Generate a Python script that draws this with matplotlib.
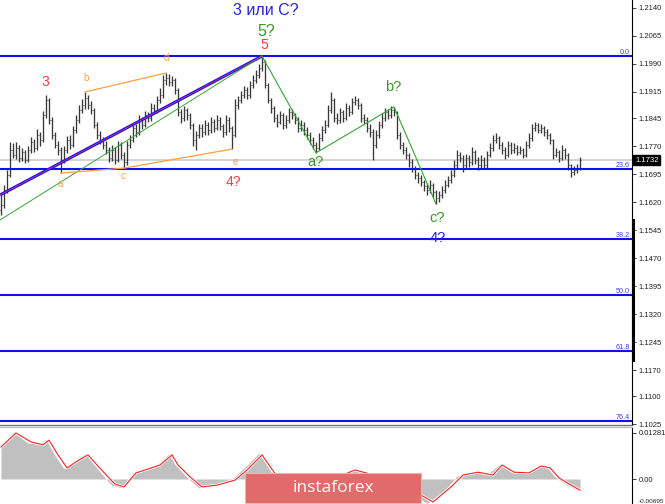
import matplotlib
matplotlib.use("Agg")
import matplotlib.pyplot as plt
import matplotlib.patheffects as pe
from matplotlib.patches import Rectangle
from matplotlib.lines import Line2D
import numpy as np

plt.rcParams['font.family'] = ['Liberation Sans', 'DejaVu Sans']

# === price bars (EURUSD-like), one entry per bar ===
first_open = 1.1600
closes = [
    1.1612, 1.1652, 1.1693, 1.1760, 1.1746, 1.1765, 1.1738, 1.1754, 1.1733, 1.1760,
    1.1781, 1.1765, 1.1800, 1.1786, 1.1853, 1.1894, 1.1840, 1.1800, 1.1773, 1.1760,
    1.1733, 1.1760, 1.1786, 1.1773, 1.1813, 1.1840, 1.1867, 1.1880, 1.1899, 1.1880,
    1.1867, 1.1827, 1.1800, 1.1786, 1.1773, 1.1760, 1.1738, 1.1760, 1.1733, 1.1773,
    1.1746, 1.1727, 1.1773, 1.1786, 1.1819, 1.1808, 1.1840, 1.1827, 1.1853, 1.1845,
    1.1872, 1.1867, 1.1894, 1.1907, 1.1947, 1.1953, 1.1942, 1.1947, 1.1920, 1.1861,
    1.1845, 1.1867, 1.1853, 1.1827, 1.1786, 1.1800, 1.1819, 1.1808, 1.1827, 1.1813,
    1.1835, 1.1819, 1.1840, 1.1824, 1.1808, 1.1840, 1.1819, 1.1800, 1.1880, 1.1894,
    1.1907, 1.1920, 1.1907, 1.1934, 1.1947, 1.1961, 1.1979, 1.1995, 1.1934, 1.1894,
    1.1872, 1.1845, 1.1835, 1.1853, 1.1827, 1.1840, 1.1861, 1.1853, 1.1840, 1.1819,
    1.1827, 1.1813, 1.1800, 1.1786, 1.1773, 1.1765, 1.1792, 1.1813, 1.1827, 1.1867,
    1.1894, 1.1845, 1.1840, 1.1861, 1.1845, 1.1872, 1.1861, 1.1888, 1.1894, 1.1880,
    1.1845, 1.1840, 1.1819, 1.1808, 1.1773, 1.1800, 1.1827, 1.1845, 1.1861, 1.1853,
    1.1867, 1.1861, 1.1800, 1.1773, 1.1760, 1.1746, 1.1727, 1.1711, 1.1693, 1.1684,
    1.1674, 1.1663, 1.1652, 1.1666, 1.1647, 1.1631, 1.1639, 1.1652, 1.1666, 1.1679,
    1.1693, 1.1719, 1.1746, 1.1738, 1.1719, 1.1738, 1.1727, 1.1754, 1.1733, 1.1719,
    1.1733, 1.1719, 1.1746, 1.1765, 1.1786, 1.1792, 1.1773, 1.1760, 1.1746, 1.1773,
    1.1760, 1.1765, 1.1754, 1.1760, 1.1746, 1.1773, 1.1792, 1.1819, 1.1827, 1.1813,
    1.1819, 1.1808, 1.1800, 1.1786, 1.1746, 1.1754, 1.1738, 1.1760, 1.1746, 1.1719,
    1.1700, 1.1706, 1.1711, 1.1732,
]
highs = [
    1.1640, 1.1665, 1.1705, 1.1781, 1.1778, 1.1780, 1.1772, 1.1765, 1.1760, 1.1770,
    1.1795, 1.1790, 1.1815, 1.1808, 1.1865, 1.1907, 1.1900, 1.1848, 1.1808, 1.1785,
    1.1768, 1.1770, 1.1798, 1.1800, 1.1825, 1.1852, 1.1880, 1.1895, 1.1915, 1.1908,
    1.1890, 1.1872, 1.1835, 1.1810, 1.1795, 1.1785, 1.1768, 1.1772, 1.1768, 1.1785,
    1.1780, 1.1755, 1.1785, 1.1800, 1.1830, 1.1828, 1.1852, 1.1848, 1.1865, 1.1862,
    1.1885, 1.1882, 1.1905, 1.1925, 1.1960, 1.1966, 1.1962, 1.1958, 1.1952, 1.1925,
    1.1870, 1.1878, 1.1872, 1.1860, 1.1832, 1.1810, 1.1830, 1.1828, 1.1840, 1.1835,
    1.1848, 1.1842, 1.1852, 1.1848, 1.1830, 1.1852, 1.1848, 1.1825, 1.1895, 1.1905,
    1.1918, 1.1932, 1.1928, 1.1945, 1.1960, 1.1975, 1.1990, 1.2011, 1.2000, 1.1940,
    1.1900, 1.1878, 1.1855, 1.1865, 1.1860, 1.1852, 1.1872, 1.1870, 1.1860, 1.1848,
    1.1840, 1.1835, 1.1820, 1.1808, 1.1795, 1.1780, 1.1805, 1.1825, 1.1840, 1.1880,
    1.1915, 1.1900, 1.1858, 1.1872, 1.1868, 1.1885, 1.1880, 1.1900, 1.1905, 1.1900,
    1.1885, 1.1855, 1.1848, 1.1828, 1.1815, 1.1812, 1.1838, 1.1858, 1.1872, 1.1870,
    1.1878, 1.1875, 1.1865, 1.1808, 1.1782, 1.1768, 1.1752, 1.1735, 1.1718, 1.1700,
    1.1692, 1.1680, 1.1672, 1.1678, 1.1672, 1.1652, 1.1650, 1.1662, 1.1678, 1.1690,
    1.1705, 1.1732, 1.1760, 1.1755, 1.1745, 1.1750, 1.1745, 1.1768, 1.1760, 1.1740,
    1.1745, 1.1740, 1.1758, 1.1778, 1.1800, 1.1805, 1.1798, 1.1780, 1.1768, 1.1785,
    1.1780, 1.1778, 1.1772, 1.1770, 1.1765, 1.1785, 1.1805, 1.1830, 1.1835, 1.1832,
    1.1828, 1.1825, 1.1815, 1.1805, 1.1790, 1.1765, 1.1760, 1.1772, 1.1765, 1.1752,
    1.1722, 1.1718, 1.1722, 1.1742,
]
lows = [
    1.1585, 1.1605, 1.1645, 1.1688, 1.1738, 1.1735, 1.1728, 1.1730, 1.1725, 1.1728,
    1.1752, 1.1755, 1.1760, 1.1770, 1.1780, 1.1845, 1.1830, 1.1790, 1.1765, 1.1745,
    1.1698, 1.1725, 1.1752, 1.1762, 1.1768, 1.1805, 1.1832, 1.1858, 1.1870, 1.1870,
    1.1855, 1.1818, 1.1790, 1.1775, 1.1762, 1.1748, 1.1728, 1.1730, 1.1722, 1.1728,
    1.1735, 1.1711, 1.1720, 1.1765, 1.1780, 1.1795, 1.1800, 1.1815, 1.1820, 1.1835,
    1.1838, 1.1855, 1.1860, 1.1885, 1.1900, 1.1935, 1.1930, 1.1932, 1.1910, 1.1850,
    1.1832, 1.1838, 1.1840, 1.1815, 1.1770, 1.1760, 1.1792, 1.1795, 1.1800, 1.1800,
    1.1805, 1.1808, 1.1812, 1.1812, 1.1795, 1.1800, 1.1808, 1.1762, 1.1795, 1.1870,
    1.1885, 1.1898, 1.1895, 1.1900, 1.1925, 1.1940, 1.1952, 1.1970, 1.1925, 1.1885,
    1.1860, 1.1835, 1.1822, 1.1828, 1.1815, 1.1818, 1.1832, 1.1842, 1.1828, 1.1808,
    1.1810, 1.1800, 1.1790, 1.1775, 1.1762, 1.1752, 1.1760, 1.1785, 1.1805, 1.1820,
    1.1860, 1.1835, 1.1828, 1.1832, 1.1835, 1.1840, 1.1850, 1.1855, 1.1880, 1.1870,
    1.1835, 1.1828, 1.1808, 1.1795, 1.1733, 1.1765, 1.1792, 1.1818, 1.1838, 1.1842,
    1.1845, 1.1850, 1.1790, 1.1762, 1.1748, 1.1735, 1.1715, 1.1700, 1.1682, 1.1672,
    1.1662, 1.1650, 1.1640, 1.1645, 1.1635, 1.1615, 1.1620, 1.1630, 1.1645, 1.1660,
    1.1672, 1.1688, 1.1712, 1.1728, 1.1700, 1.1712, 1.1715, 1.1720, 1.1722, 1.1705,
    1.1710, 1.1708, 1.1712, 1.1740, 1.1758, 1.1778, 1.1762, 1.1748, 1.1735, 1.1740,
    1.1750, 1.1752, 1.1745, 1.1748, 1.1738, 1.1740, 1.1765, 1.1785, 1.1810, 1.1805,
    1.1805, 1.1798, 1.1790, 1.1775, 1.1735, 1.1740, 1.1728, 1.1732, 1.1735, 1.1705,
    1.1688, 1.1692, 1.1698, 1.1705,
]
last_price = 1.1732

# === Fibonacci grid ===
fib_top, fib_bottom = 1.2011, 1.0731
fib_ratios = [0.0, 23.6, 38.2, 50.0, 61.8, 76.4]

price_ticks = [1.2140, 1.2065, 1.1990, 1.1915, 1.1845, 1.1770, 1.1695, 1.1620,
               1.1545, 1.1470, 1.1395, 1.1320, 1.1245, 1.1170, 1.1100, 1.1025]

# === wave marks (bar index) ===
chan_start = -0.33
blue_start_price = 1.1639
green_start_price = 1.1572
peak5_bar = 87
abc_bars = [87, 105, 131, 145]
tri_upper_bars = [28, 55]
tri_lower_bars = [20, 41, 77]

# === MACD panel ===
macd_bars = [0, 4, 9, 13, 15, 18, 21, 25, 28, 31, 35, 37, 40, 44, 47, 52, 56, 58,
             62, 66, 71, 77, 81, 86, 90, 94, 99, 105, 112, 117, 122, 129, 135, 142,
             148, 152, 157, 162, 166, 170, 175, 179, 182, 185, 189, 193]
macd_vals = [0.0092, 0.0130, 0.0100, 0.0097, 0.0110, 0.0065, 0.0028, 0.0055, 0.0070,
             0.0040, 0.0000, -0.0018, -0.0024, 0.0018, 0.0027, 0.0040, 0.0070, 0.0040,
             0.0005, -0.0025, -0.0018, 0.0000, 0.0030, 0.0072, 0.0020, -0.0018, -0.0032,
             -0.0022, 0.0010, 0.0027, 0.0014, 0.0003, -0.0028, -0.0068, -0.0030, 0.0008,
             0.0020, 0.0012, 0.0040, 0.0020, 0.0018, 0.0037, 0.0032, 0.0003, -0.0018,
             -0.0034]
signal_bars = [0, 5, 10, 14, 16, 19, 22, 26, 29, 32, 36, 38, 41, 45, 48, 53, 57, 59,
               63, 67, 72, 78, 82, 87, 91, 95, 100, 106, 113, 118, 123, 130, 136, 144,
               150, 154, 159, 164, 167, 171, 176, 180, 183, 186, 190, 193]
signal_vals = [0.0089, 0.0128, 0.0103, 0.0095, 0.0108, 0.0067, 0.0031, 0.0053, 0.0067,
               0.0039, 0.0003, -0.0014, -0.0022, 0.0017, 0.0025, 0.0039, 0.0067, 0.0039,
               0.0006, -0.0022, -0.0017, -0.0003, 0.0025, 0.0067, 0.0019, -0.0017, -0.0031,
               -0.0022, 0.0008, 0.0025, 0.0014, 0.0003, -0.0025, -0.0064, -0.0022, 0.0011,
               0.0019, 0.0011, 0.0039, 0.0019, 0.0017, 0.0036, 0.0031, 0.0003, -0.0017,
               -0.0031]

W, H = 665, 504
fig = plt.figure(figsize=(W / 100, H / 100), dpi=100)
fig.patch.set_facecolor('white')

RED = '#ff3a3a'
ORANGE = '#ffa040'
GREEN = '#3a9a22'
BLUE = '#1414ff'

# --- main price panel ---
ax = fig.add_axes([0, 1 - 425 / H, 632 / W, 425 / H])
ax.set_xlim(-0.33, 210.33)
ax.set_ylim(1.10229, 1.21614)
for s in ['top', 'left', 'bottom']:
    ax.spines[s].set_visible(False)
ax.spines['right'].set_color('black')
ax.spines['right'].set_linewidth(0.8)
ax.yaxis.tick_right()
ax.set_yticks(price_ticks)
ax.set_yticklabels([f"{t:.4f}" for t in price_ticks])
ax.tick_params(axis='y', length=3, width=0.6, labelsize=5.5, pad=2, colors='#222222')
ax.set_xticks([])

idx = np.arange(len(closes))
opens = [first_open] + closes[:-1]

ax.axhline(last_price, color='#d4d4d4', lw=1.4, zorder=1)

ax.vlines(idx, lows, highs, color='#383838', lw=0.95, zorder=3)
ax.hlines(opens, idx - 0.45, idx, color='#383838', lw=0.7, zorder=3)
ax.hlines(closes, idx, idx + 0.45, color='#383838', lw=0.7, zorder=3)

# fibonacci levels
for r in fib_ratios:
    lvl = fib_top - r / 100 * (fib_top - fib_bottom)
    ax.axhline(lvl, color='#1010f0', lw=1.5, zorder=4)
    ax.text(0.997, lvl, f"{r:.1f}", transform=ax.get_yaxis_transform(),
            ha='right', va='bottom', fontsize=5.2, color='#4040ff', zorder=5)

# trend lines
peak5 = highs[peak5_bar]
ax.plot([chan_start, peak5_bar], [blue_start_price, peak5], color=BLUE, lw=2.2, zorder=5,
        solid_capstyle='butt')
ax.plot([chan_start, peak5_bar], [blue_start_price, peak5], color='#ff3030', lw=0.5, zorder=6)
ax.plot([chan_start, peak5_bar], [green_start_price, peak5], color='#33a833', lw=0.7, zorder=5)

abc_prices = [highs[abc_bars[0]], lows[abc_bars[1]], highs[abc_bars[2]], lows[abc_bars[3]]]
ax.plot(abc_bars, abc_prices, color='#33a833', lw=0.8, zorder=5)

ax.plot(tri_upper_bars, [highs[b] for b in tri_upper_bars], color=ORANGE, lw=0.9, zorder=5)
ax.plot(tri_lower_bars, [lows[b] for b in tri_lower_bars], color=ORANGE, lw=0.9, zorder=5)

# wave labels
def label(x, y, s, color, size):
    ax.text(x, y, s, color=color, fontsize=size, ha='center', va='center', zorder=7)

label(88.3, 1.2133, '3 или C?', '#2222ee', 11.5)
label(88.3, 1.2076, '5?', GREEN, 11.5)
label(87.7, 1.2041, '5', RED, 10)
label(14.7, 1.1942, '3', RED, 10)
label(28.3, 1.1952, 'b', ORANGE, 7)
label(55.0, 1.2006, 'd', ORANGE, 7)
label(19.7, 1.1669, 'a', ORANGE, 7)
label(40.7, 1.1690, 'c', ORANGE, 7)
label(78.0, 1.1727, 'e', ORANGE, 7)
label(77.3, 1.1674, '4?', RED, 10)
label(105.0, 1.1727, 'a?', GREEN, 10.5)
label(130.7, 1.1928, 'b?', GREEN, 10.5)
label(145.3, 1.1577, 'c?', GREEN, 10.5)
label(145.7, 1.1524, '4?', '#2222ee', 10.5)

# --- MACD panel ---
ax2 = fig.add_axes([0, 0, 632 / W, 76 / H])
ax2.set_xlim(-0.33, 210.33)
ax2.set_ylim(-0.00695, 0.01418)
for s in ['top', 'left', 'bottom']:
    ax2.spines[s].set_visible(False)
ax2.spines['right'].set_linewidth(0.8)
ax2.yaxis.tick_right()
ax2.set_yticks([0.01281, 0.0, -0.00695])
ax2.set_yticklabels(['0.01281', '0.00', '-0.00695'])
ax2.tick_params(axis='y', length=3, width=0.6, labelsize=5.5, pad=2, colors='#222222')
low_lbl = ax2.get_yticklabels()[-1]
low_lbl.set_verticalalignment('bottom')
low_lbl.set_fontsize(4.6)
ax2.set_xticks([])
ax2.fill_between(macd_bars, 0, macd_vals, color='#c0c0c0', lw=0, zorder=2)
ax2.plot(signal_bars, signal_vals, color='#ff2020', lw=0.8, zorder=3,
         path_effects=[pe.Stroke(linewidth=2.0, foreground='white'), pe.Normal()])

# separator between panels
fig.add_artist(Line2D([0, 632 / W], [1 - 424.5 / H] * 2, color='#6a6a6a', lw=0.9))
fig.add_artist(Line2D([0, 632 / W], [1 - 427.0 / H] * 2, color='#b8b8b8', lw=0.9))

# scroll marker on the price scale
fig.add_artist(Line2D([632.5 / W] * 2, [1 - 220 / H, 1 - 360 / H], color='black', lw=2.2))

# current price tag
fig.text(635 / W, 1 - 160 / H, f"{last_price:.4f}", color='white', fontsize=5.5,
         ha='left', va='center',
         bbox=dict(facecolor='black', edgecolor='black', pad=1.2))

# instaforex logo box
fig.add_artist(Rectangle((245 / W, 1 - 503 / H), 176 / W, 30 / H, transform=fig.transFigure,
                         facecolor='#e26a6a', edgecolor='#f2b0b0', lw=0.8, zorder=10))
fig.text(333 / W, 1 - 488 / H, 'instaforex', color='white', fontsize=12.5,
         family=['Open Sans', 'DejaVu Sans'], ha='center', va='center', zorder=11)

fig.savefig('out.png', dpi=100, facecolor='white')
